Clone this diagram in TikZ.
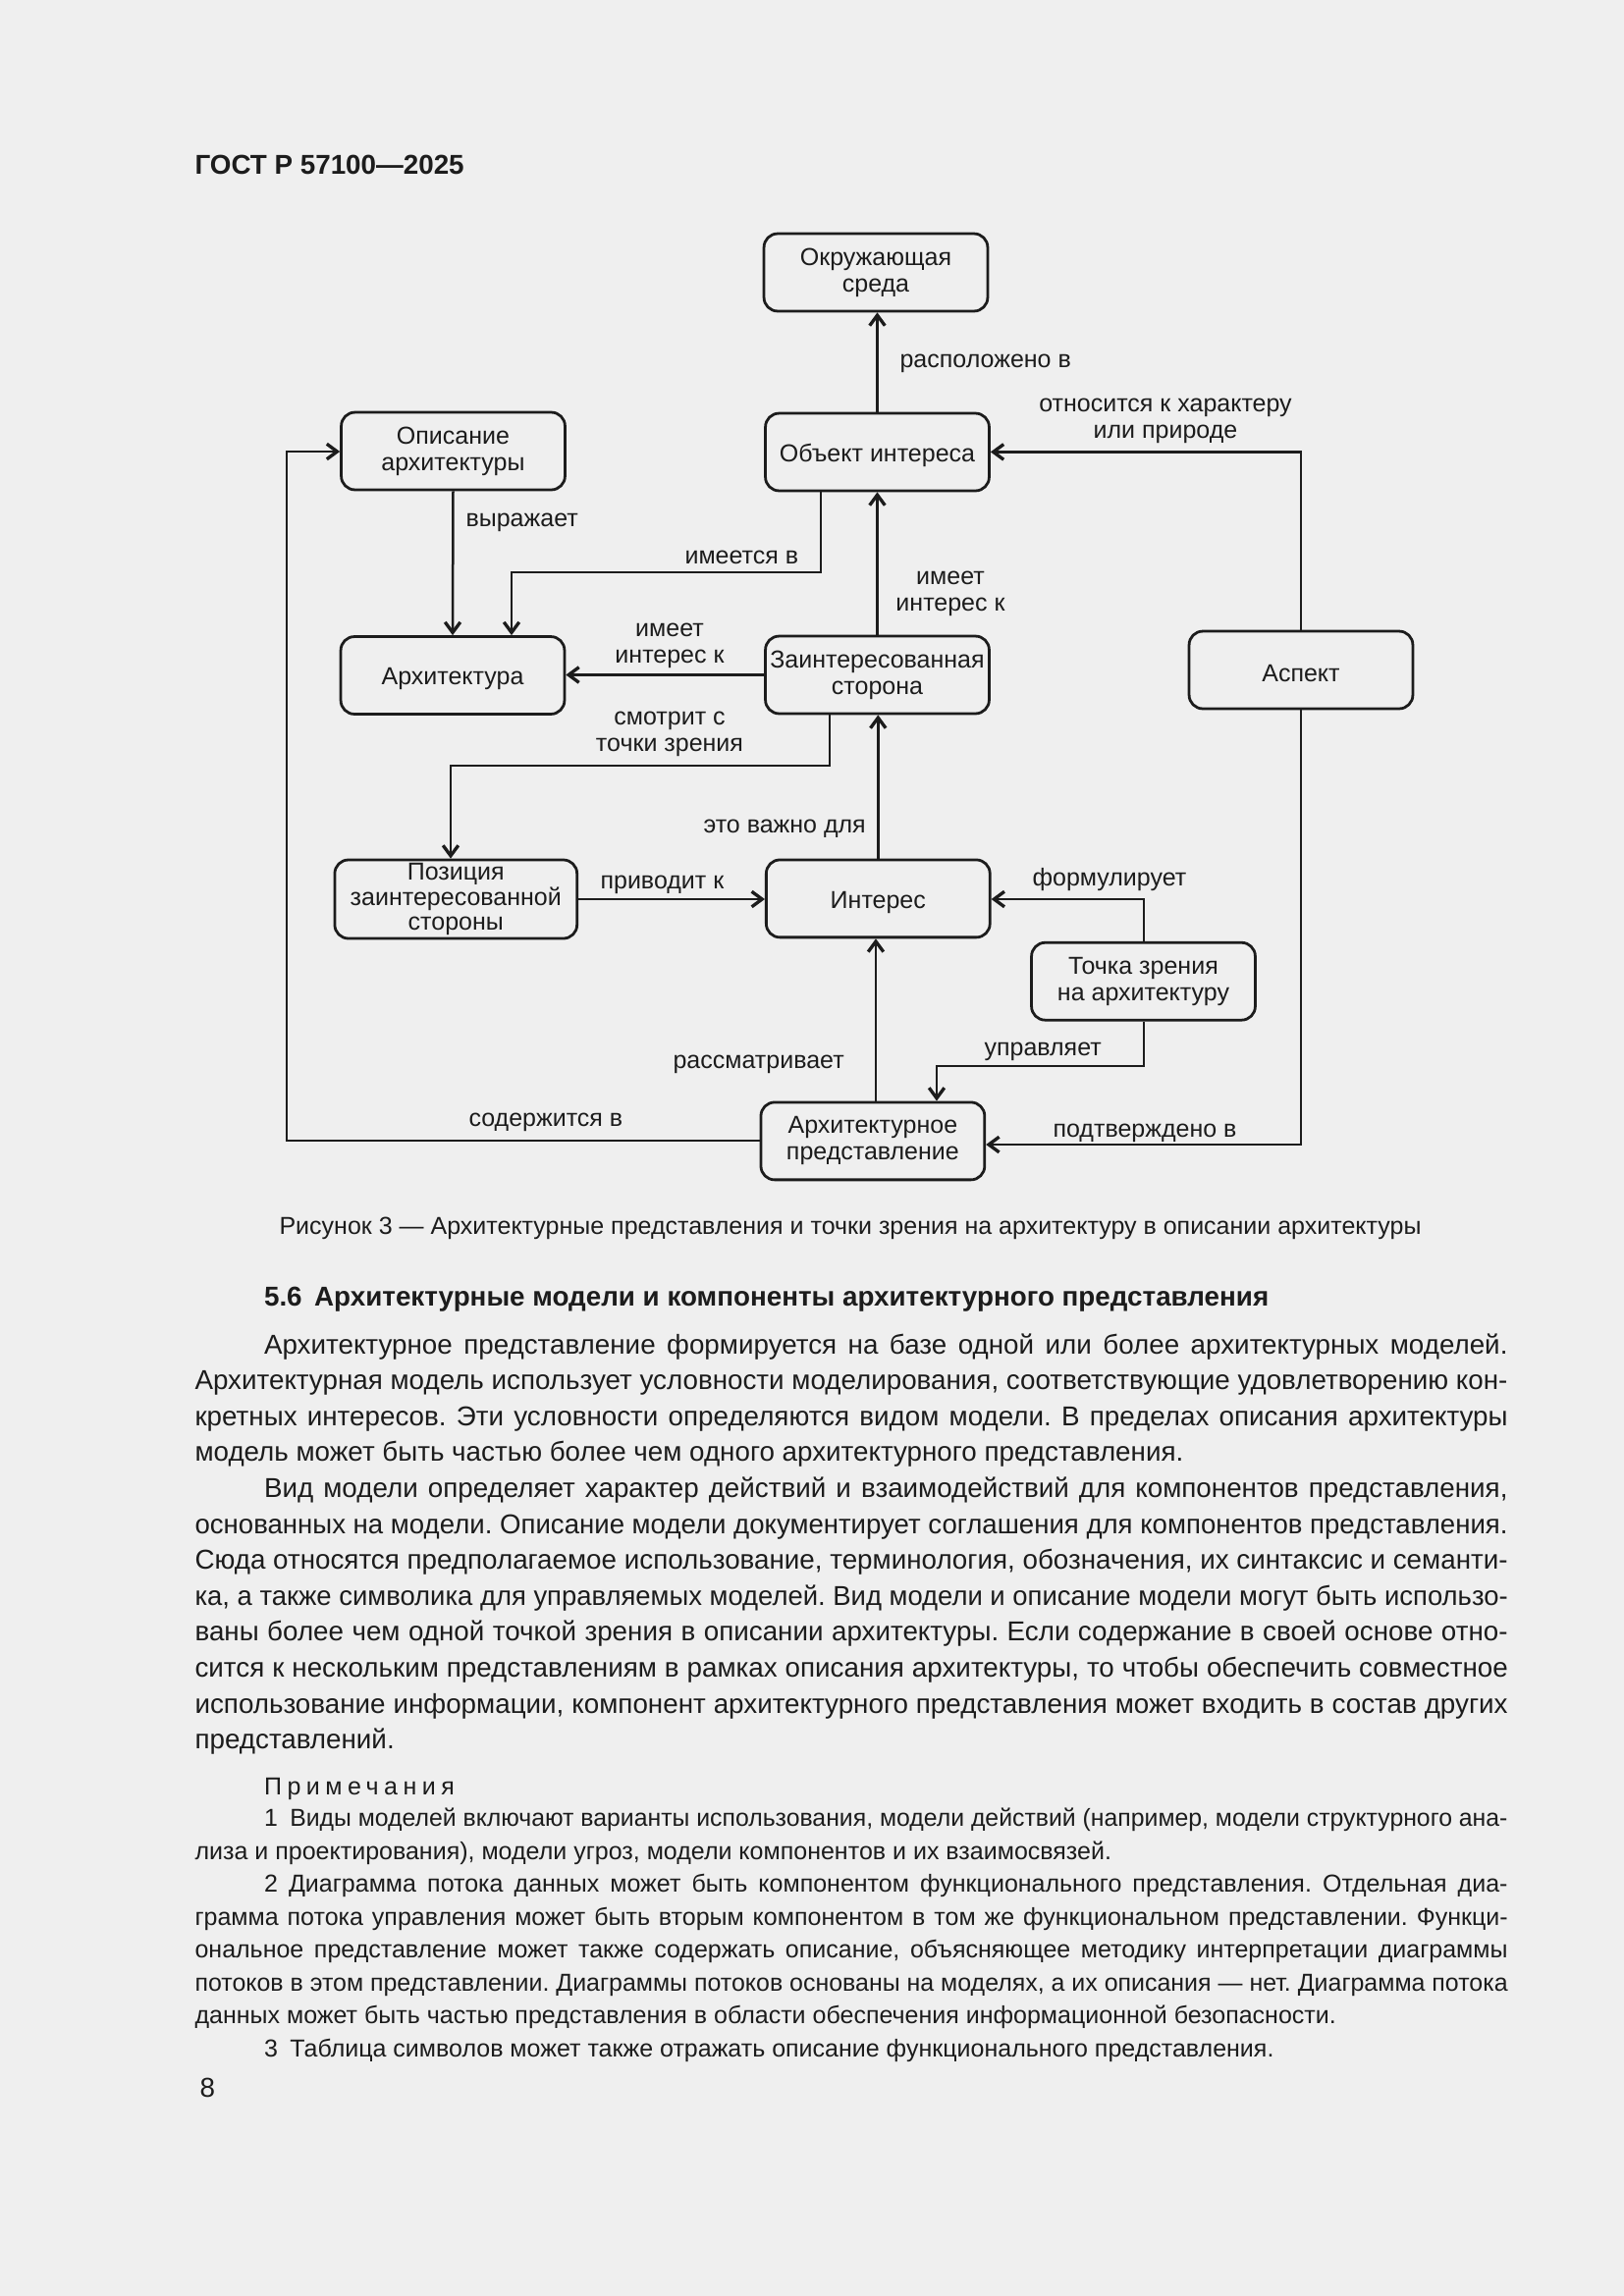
\documentclass[tikz,border=0pt]{standalone}
\usepackage{fontspec}
\setmainfont{Liberation Sans}
\usepackage{graphicx}
\usetikzlibrary{arrows.meta}
\definecolor{bg}{RGB}{239,239,239}
\definecolor{ink}{RGB}{28,28,28}
\newcommand\dfont{\fontsize{9}{9.7}\selectfont}
\newcommand\bfontx{\fontsize{10}{13}\selectfont}
\newcommand\nfont{\fontsize{9}{12}\selectfont}
\newsavebox\lbox
\newcommand\jline[2]{\sbox\lbox{#2}\ifdim\wd\lbox>#1\relax\pgfmathsetmacro\rat{(#1)/(\wd\lbox)}\scalebox{\rat}[1]{\usebox\lbox}\else\makebox[#1][s]{#2}\fi}
\frenchspacing
\begin{document}
\begin{tikzpicture}[x=0.3599pt,y=-0.3599pt,
  box/.style={draw=ink, line width=1pt, rounded corners=5pt, minimum width=82pt, minimum height=28.4pt, align=center, inner sep=1pt, font=\dfont, text=ink, execute at begin node={\rule{0pt}{9pt}}},
  lab/.style={font=\dfont, text=ink, inner sep=0pt, align=center},
  arr/.style={draw=ink, line width=0.9pt, -{Straight Barb[length=3.8pt,width=5.6pt,line width=1.2pt]}},
  txt/.style={anchor=base west, inner sep=0pt, text=ink}]
\fill[bg] (0,0) rectangle (1654,2339);
\useasboundingbox (0,0) rectangle (1654,2339);

% header
\node[txt, font=\bfseries\bfontx] (hdr) at (198,177) {ГОСТ Р 57100—2025};

% boxes
\node[box] (env) at (892,277.5) {Окружающая\\среда};
\node[box] (desc) at (461.5,459.5) {Описание\\архитектуры};
\node[box] (obj) at (893.5,460.5) {Объект интереса};
\node[box] (arch) at (461,688) {Архитектура};
\node[box] (stake) at (893.5,687.5) {Заинтересованная\\сторона};
\node[box] (aspect) at (1325,682.5) {Аспект};
\node[box, minimum width=88.8pt, minimum height=28.8pt, inner sep=0pt, font=\fontsize{9}{9.1}\selectfont, execute at begin node={}] (pos) at (464.3,916) {Позиция\\заинтересованной\\стороны};
\node[box] (concern) at (894.3,915.4) {Интерес};
\node[box] (vp) at (1164.5,999.7) {Точка зрения\\на архитектуру};
\node[box] (view) at (888.9,1162.4) {Архитектурное\\представление};

% helper coordinates
\coordinate (p3a) at (836,583); \coordinate (p3b) at (521,583);
\coordinate (p6a) at (845,780); \coordinate (p6b) at (459,780);
\coordinate (p9) at (1165,916);
\coordinate (p10) at (892,1100);
\coordinate (p11a) at (1165,1086); \coordinate (p11b) at (954,1086);
\coordinate (p12) at (1325,460.4);
\coordinate (p13) at (1325,1166);
\coordinate (p14a) at (292,1162); \coordinate (p14b) at (292,460);

% connectors
\draw[arr] (obj.north) -- (obj.north |- env.south);
\draw[arr] (desc.south) -- (arch.north);
\draw[arr] (obj.south -| p3a) -- (p3a) -- (p3b) -- (arch.north -| p3b);
\draw[arr] (stake.north) -- (obj.south);
\draw[arr] (stake.west) -- (arch.east |- stake.west);
\draw[arr] (stake.south -| p6a) -- (p6a) -- (p6b) -- (pos.north -| p6b);
\draw[arr] (concern.north) -- (concern.north |- stake.south);
\draw[arr] (pos.east) -- (concern.west |- pos.east);
\draw[arr] (vp.north -| p9) -- (p9) -- (concern.east |- p9);
\draw[arr] (view.north -| p10) -- (concern.south -| p10);
\draw[arr] (vp.south -| p11a) -- (p11a) -- (p11b) -- (view.north -| p11b);
\draw[arr] (aspect.north) -- (p12) -- (obj.east |- p12);
\draw[arr] (aspect.south) -- (p13) -- (view.east |- p13);
\draw[arr] (view.west |- p14a) -- (p14a) -- (p14b) -- (desc.west |- p14b);

% connector labels
\node[lab, anchor=west] (l1) at (916,370.5) {расположено в};
\node[lab, anchor=west] (l2) at (474,532) {выражает};
\node[lab, anchor=west] (l3) at (697,568) {имеется в};
\node[lab] (l4) at (968,604.5) {имеет\\интерес к};
\node[lab] (l5) at (682,657.5) {имеет\\интерес к};
\node[lab] (l6) at (682,747.5) {смотрит с\\точки зрения};
\node[lab, anchor=west] (l7) at (716,844) {это важно для};
\node[lab, anchor=west] (l8) at (611,901) {приводит к};
\node[lab, anchor=west] (l9) at (1051,896) {формулирует};
\node[lab, anchor=west] (l10) at (685,1084) {рассматривает};
\node[lab, anchor=west] (l11) at (1002,1071) {управляет};
\node[lab] (l12) at (1187,428.5) {относится к характеру\\или природе};
\node[lab, anchor=west] (l13) at (1072,1154) {подтверждено в};
\node[lab, anchor=west] (l14) at (477,1143) {содержится в};

% caption
\node[anchor=base, inner sep=0pt, text=ink, font=\nfont] (cap) at (866,1257) {Рисунок 3 — Архитектурные представления и точки зрения на архитектуру в описании архитектуры};

% section heading
\node[txt, font=\bfseries\bfontx] (sec) at (268.5,1330.5) {5.6\hspace{0.45em}Архитектурные модели и компоненты архитектурного представления};

% body
\node[txt, font=\bfontx] (b1) at (268.5,1379) {\jline{455.8pt}{Архитектурное представление формируется на базе одной или более архитектурных моделей.}};
\node[txt, font=\bfontx] (b2) at (198,1415.6) {\jline{481.2pt}{Архитектурная модель использует условности моделирования, соответствующие удовлетворению кон-}};
\node[txt, font=\bfontx] (b3) at (198,1452.2) {\jline{481.2pt}{кретных интересов. Эти условности определяются видом модели. В пределах описания архитектуры}};
\node[txt, font=\bfontx] (b4) at (198,1488.8) {модель может быть частью более чем одного архитектурного представления.};
\node[txt, font=\bfontx] (b5) at (268.5,1525.4) {\jline{455.8pt}{Вид модели определяет характер действий и взаимодействий для компонентов представления,}};
\node[txt, font=\bfontx] (b6) at (198,1562) {\jline{481.2pt}{основанных на модели. Описание модели документирует соглашения для компонентов представления.}};
\node[txt, font=\bfontx] (b7) at (198,1598.6) {\jline{481.2pt}{Сюда относятся предполагаемое использование, терминология, обозначения, их синтаксис и семанти-}};
\node[txt, font=\bfontx] (b8) at (198,1635.2) {\jline{481.2pt}{ка, а также символика для управляемых моделей. Вид модели и описание модели могут быть использо-}};
\node[txt, font=\bfontx] (b9) at (198,1671.8) {\jline{481.2pt}{ваны более чем одной точкой зрения в описании архитектуры. Если содержание в своей основе отно-}};
\node[txt, font=\bfontx] (b10) at (198,1708.4) {\jline{481.2pt}{сится к нескольким представлениям в рамках описания архитектуры, то чтобы обеспечить совместное}};
\node[txt, font=\bfontx] (b11) at (198,1745) {\jline{481.2pt}{использование информации, компонент архитектурного представления может входить в состав других}};
\node[txt, font=\bfontx] (b12) at (198,1781.6) {представлений.};

% notes
\node[txt, font=\nfont] (n0) at (268.5,1828) {\addfontfeature{LetterSpace=22}Примечания};
\node[txt, font=\nfont] (n1) at (268.5,1860.5) {\jline{455.8pt}{1\hspace{0.5em}Виды моделей включают варианты использования, модели действий (например, модели структурного ана-}};
\node[txt, font=\nfont] (n2) at (198,1894) {лиза и проектирования), модели угроз, модели компонентов и их взаимосвязей.};
\node[txt, font=\nfont] (n3) at (268.5,1927.5) {\jline{455.8pt}{2 Диаграмма потока данных может быть компонентом функционального представления. Отдельная диа-}};
\node[txt, font=\nfont] (n4) at (198,1961) {\jline{481.2pt}{грамма потока управления может быть вторым компонентом в том же функциональном представлении. Функци-}};
\node[txt, font=\nfont] (n5) at (198,1994.5) {\jline{481.2pt}{ональное представление может также содержать описание, объясняющее методику интерпретации диаграммы}};
\node[txt, font=\nfont] (n6) at (198,2028) {\jline{481.2pt}{потоков в этом представлении. Диаграммы потоков основаны на моделях, а их описания — нет. Диаграмма потока}};
\node[txt, font=\nfont] (n7) at (198,2061.5) {данных может быть частью представления в области обеспечения информационной безопасности.};
\node[txt, font=\nfont] (n8) at (268.5,2095) {3\hspace{0.5em}Таблица символов может также отражать описание функционального представления.};

% page number
\node[txt, font=\bfontx] (pg) at (203,2136.5) {8};
\end{tikzpicture}
\end{document}
